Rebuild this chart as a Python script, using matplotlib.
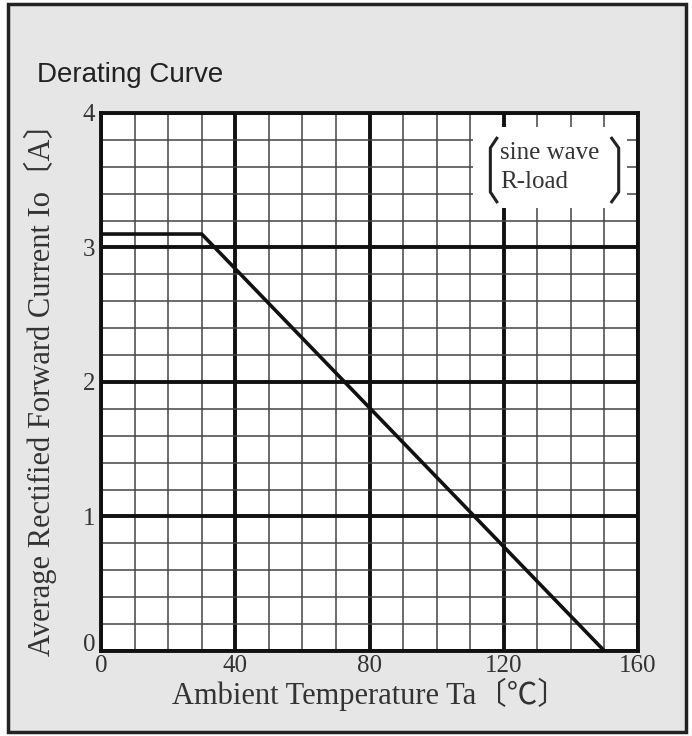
import matplotlib
matplotlib.use('Agg')
import matplotlib.pyplot as plt
from matplotlib.patches import Rectangle
from matplotlib.lines import Line2D

# derating curve: flat until knee, then linear to zero
temp = [0, 30, 150]
current = [3.1, 3.1, 0]

x_ticks = [0, 40, 80, 120, 160]
y_ticks = [0, 1, 2, 3, 4]
x_minor = list(range(0, 161, 10))
y_minor = [i * 0.2 for i in range(21)]

serif = ['Liberation Serif', 'Noto Sans CJK JP', 'DejaVu Serif']

fig = plt.figure(figsize=(6.92, 7.36), dpi=100)
fig.patch.set_facecolor('white')

# outer frame with gray fill
fig.patches.append(Rectangle((0.012, 0.005), 0.979, 0.99, transform=fig.transFigure,
                             facecolor='#e6e6e6', edgecolor='#222222', linewidth=2.5, zorder=-10))

fig.text(0.053, 0.898, 'Derating Curve', family='Liberation Sans', fontsize=20,
         color='#222222', va='center', ha='left')

ax = fig.add_axes([0.146, 0.1155, 0.776, 0.731])
ax.set_facecolor('white')
ax.set_xlim(0, 160)
ax.set_ylim(0, 4)

for x in x_minor:
    lw, c = (2.8, '#111111') if x in x_ticks else (1.1, '#444444')
    ax.axvline(x, color=c, linewidth=lw, zorder=1)
for y in y_minor:
    yy = round(y, 1)
    lw, c = (2.8, '#111111') if yy in y_ticks else (1.1, '#444444')
    ax.axhline(yy, color=c, linewidth=lw, zorder=1)

ax.plot(temp, current, color='#111111', linewidth=2.6, zorder=3)

ax.set_xticks(x_ticks)
ax.set_yticks(y_ticks)
ax.tick_params(axis='x', length=0, pad=3, labelsize=18, colors='#333333')
ax.tick_params(axis='y', length=0, pad=4, labelsize=18, colors='#333333')
for lab in ax.get_xticklabels() + ax.get_yticklabels():
    lab.set_family(serif)
ax.get_yticklabels()[0].set_va('baseline')
for s in ax.spines.values():
    s.set_linewidth(2.8)
    s.set_color('#111111')

ax.set_xlabel('Ambient Temperature Ta〔℃〕', family=serif, fontsize=22, color='#333333')
ax.xaxis.set_label_coords(0.5, -0.05)
ax.set_ylabel('Average Rectified Forward Current Io〔A〕', family=serif, fontsize=22,
              color='#333333')
ax.yaxis.set_label_coords(-0.082, 0.5)

# legend box with brackets
bx0, bx1, by0, by1 = 0.693, 0.98, 0.823, 0.974
ax.add_patch(Rectangle((bx0, by0), bx1 - bx0, by1 - by0, transform=ax.transAxes,
                       facecolor='white', edgecolor='none', zorder=4))
ax.text(0.743, 0.926, 'sine wave', transform=ax.transAxes, family=serif, fontsize=18,
        color='#333333', va='center', ha='left', zorder=5)
ax.text(0.743, 0.872, 'R-load', transform=ax.transAxes, family=serif, fontsize=18,
        color='#333333', va='center', ha='left', zorder=5)
lx = [0.737, 0.725, 0.725, 0.737]
rx = [0.951, 0.964, 0.964, 0.951]
by = [0.953, 0.935, 0.853, 0.835]
ax.add_line(Line2D(lx, by, transform=ax.transAxes, color='#222222', linewidth=2.2, zorder=5))
ax.add_line(Line2D(rx, by, transform=ax.transAxes, color='#222222', linewidth=2.2, zorder=5))

fig.savefig('out.png', dpi=100)
